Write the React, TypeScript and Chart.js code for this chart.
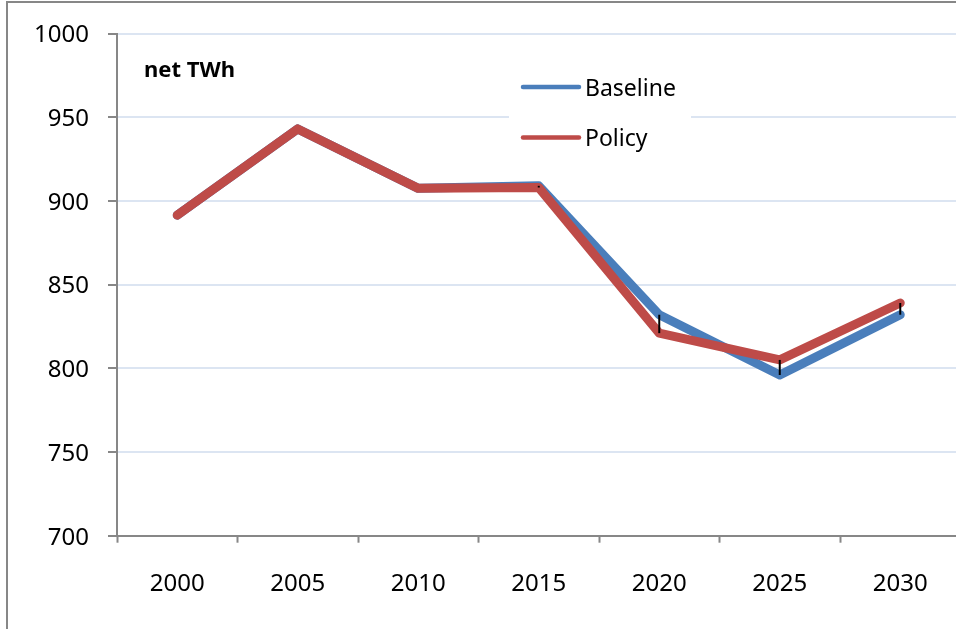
import React, { useEffect, useRef } from "react";
import { Chart, registerables } from "chart.js";

Chart.register(...registerables);

// Net electricity, TWh, by year
const years = ["2000", "2005", "2010", "2015", "2020", "2025", "2030"];
const baseline = [891.5, 943, 907.5, 909, 832, 796, 832];
const policy = [891.5, 943, 907.5, 908, 821, 805, 839];
const seriesNames = ["Baseline", "Policy"];
const yMin = 700;
const yMax = 1000;
const yStep = 50;
const unitLabel = "net TWh";

const FONT = "'Noto Sans', 'Open Sans', sans-serif";
const AXIS_GREY = "#878787";
const GRID_BLUE = "#dce5f2";
const BLUE = "#4a7ebb";
const RED = "#be4b48";

// Black high-low line at each year spanning the two scenarios
const highLowPlugin = {
  id: "highLow",
  afterDatasetsDraw(chart: any) {
    const { ctx, scales } = chart;
    const x = scales.x;
    const y = scales.y;
    ctx.save();
    ctx.strokeStyle = "#000";
    ctx.lineWidth = 2;
    years.forEach((_, i) => {
      const hi = Math.max(baseline[i], policy[i]);
      const lo = Math.min(baseline[i], policy[i]);
      if (hi === lo) return;
      const px = x.getPixelForValue(i);
      ctx.beginPath();
      ctx.moveTo(px, y.getPixelForValue(hi));
      ctx.lineTo(px, y.getPixelForValue(lo));
      ctx.stroke();
    });
    ctx.restore();
  },
};

// Unit caption and boxed legend inside the plot
const captionLegendPlugin = {
  id: "captionLegend",
  afterDraw(chart: any) {
    const { ctx, chartArea } = chart;
    ctx.save();
    ctx.fillStyle = "#000";
    ctx.font = `bold 22px ${FONT}`;
    ctx.textAlign = "left";
    ctx.textBaseline = "middle";
    ctx.fillText(unitLabel, chartArea.left + 27, chartArea.top + 37);

    const boxX = chartArea.left + 392;
    const boxY = chartArea.top + 35;
    ctx.fillStyle = "#fff";
    ctx.fillRect(boxX, boxY, 182, 92);

    chart.data.datasets.forEach((ds: any, i: number) => {
      const rowY = chartArea.top + 53.5 + i * 50.5;
      ctx.strokeStyle = ds.borderColor;
      ctx.lineWidth = 4.5;
      ctx.lineCap = "round";
      ctx.beginPath();
      ctx.moveTo(boxX + 14, rowY);
      ctx.lineTo(boxX + 70, rowY);
      ctx.stroke();
      ctx.fillStyle = "#000";
      ctx.font = `23px ${FONT}`;
      ctx.fillText(ds.label, boxX + 76, rowY + 2);
    });
    ctx.restore();
  },
};

export default function App() {
  const canvasRef = useRef<HTMLCanvasElement | null>(null);

  useEffect(() => {
    document.body.style.overflow = "hidden";
    const canvas = canvasRef.current;
    if (!canvas) return;
    const chart = new Chart(canvas, {
      type: "line",
      data: {
        labels: years,
        datasets: [
          {
            label: seriesNames[0],
            data: baseline,
            borderColor: BLUE,
            backgroundColor: BLUE,
            borderWidth: 9,
            borderCapStyle: "round",
            borderJoinStyle: "round",
            pointRadius: 0,
            tension: 0,
            order: 1,
          },
          {
            label: seriesNames[1],
            data: policy,
            borderColor: RED,
            backgroundColor: RED,
            borderWidth: 9,
            borderCapStyle: "round",
            borderJoinStyle: "round",
            pointRadius: 0,
            tension: 0,
            order: 0,
          },
        ],
      },
      options: {
        animation: false,
        responsive: false,
        maintainAspectRatio: false,
        layout: {
          padding: { left: 0, top: 33.5, right: 19.5, bottom: 44.3 },
        },
        plugins: {
          legend: { display: false },
          tooltip: { enabled: false },
          title: { display: false },
        },
        scales: {
          x: {
            type: "category",
            offset: true,
            grid: {
              offset: true,
              drawOnChartArea: false,
              drawTicks: true,
              tickLength: 7,
              tickColor: AXIS_GREY,
              tickWidth: 2,
            },
            border: { display: true, color: AXIS_GREY, width: 2 },
            ticks: {
              color: "#000",
              font: { family: FONT, size: 24 },
              padding: 27,
              maxRotation: 0,
            },
            afterFit(scale: any) {
              scale.height = 60;
            },
          },
          y: {
            min: yMin,
            max: yMax,
            grid: {
              color: GRID_BLUE,
              lineWidth: 2,
              drawTicks: true,
              tickLength: 9,
              tickColor: AXIS_GREY,
              tickWidth: 2,
            },
            border: { display: true, color: AXIS_GREY, width: 2 },
            ticks: {
              stepSize: yStep,
              color: "#000",
              font: { family: FONT, size: 24 },
              padding: 19,
              labelOffset: 2,
              callback: (v: any) => String(v),
            },
            afterFit(scale: any) {
              scale.width = 117;
            },
          },
        },
      },
      plugins: [highLowPlugin, captionLegendPlugin],
    });
    return () => chart.destroy();
  }, []);

  return (
    <>
      <div
        style={{
          position: "fixed",
          left: 6,
          top: 1,
          width: 2000,
          height: 2000,
          borderLeft: `2px solid ${AXIS_GREY}`,
          borderTop: `2px solid ${AXIS_GREY}`,
        }}
      />
      <canvas
        ref={canvasRef}
        width={980}
        height={640}
        style={{ position: "fixed", left: 0, top: 0, width: 980, height: 640 }}
      />
    </>
  );
}
